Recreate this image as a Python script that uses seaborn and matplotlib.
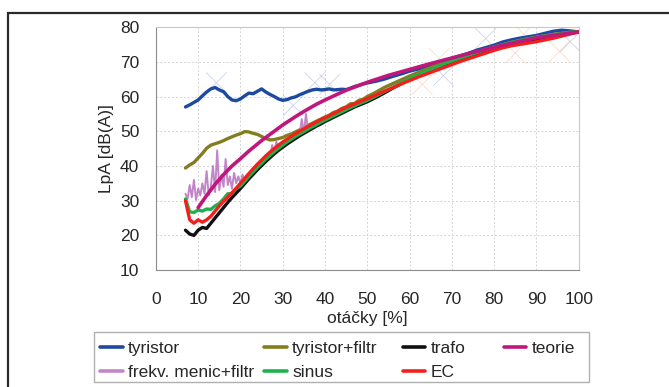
import numpy as np
import pandas as pd
import seaborn as sns
import matplotlib.pyplot as plt
from matplotlib.patches import Rectangle

# otacky [%] - spolecna osa pro mericí rady
otacky = np.concatenate([np.arange(7, 51), np.arange(52, 101, 2)])

tyristor = [57.0, 57.6, 58.3, 59.0, 60.2, 61.3, 62.2, 62.6, 61.9, 61.4, 60.0, 59.0, 58.8, 59.3,
            60.2, 61.0, 60.8, 61.5, 62.2, 61.3, 60.6, 60.0, 59.3, 58.9, 59.1, 59.6, 59.9, 60.5,
            61.0, 61.5, 61.9, 62.1, 61.9, 62.0, 62.2, 61.9, 62.0, 62.1, 62.0, 62.4, 62.9, 63.2,
            63.6, 63.9,
            64.4, 65.0, 65.8, 66.5, 67.3, 67.9, 68.7, 69.3, 70.2, 71.0, 71.7, 72.5, 73.4, 74.1,
            74.8, 75.7, 76.3, 76.8, 77.2, 77.6, 78.2, 78.8, 79.1, 78.9, 78.6]

tyristor_filtr = [39.4, 40.3, 41.0, 42.3, 43.6, 45.1, 46.0, 46.4, 46.8, 47.3, 47.9, 48.4, 48.9, 49.3,
                  49.9, 49.8, 49.4, 49.1, 48.5, 47.9, 47.5, 47.6, 47.9, 48.2, 48.8, 49.2, 49.8, 50.4,
                  51.0, 51.7, 52.3, 52.9, 53.5, 54.1, 54.6, 55.4, 55.8, 56.6, 57.0, 57.9, 58.0, 58.9,
                  59.2, 60.0,
                  61.2, 62.6, 63.7, 64.8, 65.9, 66.9, 67.9, 68.8, 69.8, 70.5, 71.3, 72.1, 72.9, 73.6,
                  74.3, 74.9, 75.6, 76.1, 76.6, 77.1, 77.5, 77.9, 78.2, 78.5, 78.6]

trafo = [21.5, 20.4, 20.0, 21.5, 22.3, 22.0, 23.5, 25.0, 26.5, 28.0, 29.5, 30.9, 32.2, 33.5,
         34.9, 36.3, 37.6, 38.9, 40.1, 41.3, 42.4, 43.5, 44.5, 45.4, 46.3, 47.1, 47.9, 48.7,
         49.4, 50.1, 50.8, 51.5, 52.1, 52.8, 53.4, 54.0, 54.6, 55.2, 55.8, 56.4, 57.0, 57.5,
         58.0, 58.5,
         59.7, 61.0, 62.4, 63.7, 65.0, 66.0, 67.0, 68.0, 69.0, 69.9, 70.8, 71.6, 72.4, 73.1,
         73.8, 74.5, 75.1, 75.6, 76.0, 76.4, 76.9, 77.4, 77.8, 78.2, 78.6]

sinus = [30.5, 26.8, 26.6, 27.3, 27.0, 27.6, 27.5, 28.5, 29.2, 30.5, 32.0, 32.0, 33.5, 34.2,
         35.6, 37.0, 38.3, 39.6, 40.8, 42.0, 43.1, 44.1, 45.1, 46.0, 46.9, 47.7, 48.5, 49.2,
         49.9, 50.6, 51.3, 51.9, 52.6, 53.2, 53.8, 54.4, 55.0, 55.6, 56.2, 56.8, 57.3, 57.9,
         58.4, 58.9,
         60.1, 61.4, 62.6, 63.9, 65.2, 66.3, 67.3, 68.3, 69.3, 70.2, 71.1, 71.9, 72.7, 73.5,
         74.2, 74.9, 75.5, 76.1, 76.6, 77.0, 77.4, 77.8, 78.1, 78.4, 78.6]

ec = [30.0, 24.5, 23.5, 24.5, 23.8, 24.5, 25.5, 27.0, 28.5, 29.8, 31.0, 32.3, 33.6, 35.0,
      36.4, 37.8, 39.2, 40.5, 41.7, 42.9, 44.0, 45.0, 46.0, 46.9, 47.7, 48.5, 49.3, 50.0,
      50.7, 51.4, 52.0, 52.7, 53.3, 53.9, 54.5, 55.1, 55.7, 56.3, 56.9, 57.4, 57.9, 58.4,
      58.9, 59.4,
      60.4, 61.5, 62.5, 63.6, 64.6, 65.6, 66.5, 67.4, 68.3, 69.2, 70.1, 70.9, 71.7, 72.5,
      73.3, 74.0, 74.6, 75.0, 75.4, 75.8, 76.3, 76.8, 77.4, 78.0, 78.6]

# frekvencni menic + filtr - jemnejsi krok kvuli spickam
otacky_fm = np.arange(7, 37.5, 0.5)
frekv_menic = [32.0, 30.5, 34.5, 31.0, 36.0, 30.2, 33.5, 31.5, 35.0, 32.0, 38.5, 31.5, 34.0, 40.0,
               32.5, 44.5, 33.0, 37.5, 34.0, 42.0, 34.5, 37.0, 33.5, 38.0, 35.0, 37.0, 35.0, 37.5,
               35.6, 37.5, 37.0, 38.0, 38.0, 39.0, 39.5, 40.0, 40.5, 41.2, 41.8, 42.2, 42.8, 46.0,
               43.8, 47.0, 44.8, 45.2, 45.7, 46.1, 46.5, 47.0, 47.4, 47.7, 48.1, 48.5, 48.8, 53.5,
               49.5, 55.0, 50.2, 51.5, 50.9]

# teoreticka krivka
otacky_teorie = [10, 12, 14, 16, 18, 20, 22, 25, 28, 30, 33, 35, 38, 40, 43, 45, 48, 50,
                 55, 60, 65, 70, 75, 80, 85, 90, 95, 100]
teorie = [28.0, 31.5, 34.7, 37.5, 40.0, 42.1, 44.3, 47.3, 50.0, 51.8, 54.2, 55.7, 57.8, 59.0,
          60.7, 61.8, 63.2, 64.1, 66.1, 67.8, 69.5, 71.1, 72.7, 74.2, 75.6, 76.9, 77.8, 78.6]

# slabe znacky "x" v grafu
znacky_x = [37.6, 41.1, 14.3, 32.5, 68.0, 78.0, 98.0, 67.0, 87.0, 63.0, 95.5, 85.0]
znacky_y = [64.0, 63.5, 64.0, 57.4, 66.0, 76.7, 75.8, 71.0, 78.0, 63.5, 73.0, 72.5]
znacky_c = ['#8f9ed8', '#8f9ed8', '#8f9ed8', '#8f9ed8', '#8f9ed8', '#8f9ed8', '#8f9ed8',
            '#d2ca90', '#d2ca90', '#f4b0a0', '#f4b0a0', '#f4b0a0']

barvy = {'tyristor': '#1c4aa0', 'tyristor+filtr': '#837d1f', 'frekv. menic+filtr': '#c286c8',
         'trafo': '#111111', 'sinus': '#1fb24c', 'EC': '#f2201c', 'teorie': '#c0177c'}

rady = [('tyristor', otacky, tyristor), ('tyristor+filtr', otacky, tyristor_filtr),
        ('frekv. menic+filtr', otacky_fm, frekv_menic), ('trafo', otacky, trafo),
        ('sinus', otacky, sinus), ('EC', otacky, ec), ('teorie', otacky_teorie, teorie)]

# sloupce legendy jako v originalu
sloupce_legendy = [['tyristor', 'frekv. menic+filtr'], ['tyristor+filtr', 'sinus'],
                   ['trafo', 'EC'], ['teorie']]

sns.set_style('white')
plt.rcParams['font.family'] = ['Liberation Sans', 'DejaVu Sans']

fig = plt.figure(figsize=(6.69, 3.87), dpi=100)
ax = fig.add_axes([0.233, 0.302, 0.632, 0.628])

sns.scatterplot(x=znacky_x, y=znacky_y, marker='x', s=220, c=znacky_c, linewidth=0.6,
                alpha=0.45, ax=ax, legend=False, zorder=1)

handles = {}
for nazev, xs, ys in rady:
    df = pd.DataFrame({'x': xs, 'y': ys})
    lw = 2.6 if nazev == 'teorie' else (1.4 if nazev == 'frekv. menic+filtr' else 2.4)
    sns.lineplot(data=df, x='x', y='y', color=barvy[nazev], lw=lw, ax=ax,
                 estimator=None, sort=False, zorder=3)
    handles[nazev] = plt.Line2D([], [], color=barvy[nazev], lw=2.6)

ax.set_xlim(0, 100)
ax.set_ylim(10, 80)
ax.set_xticks(range(0, 101, 10))
ax.set_yticks(range(10, 81, 10))
ax.grid(True, ls=(0, (2, 2)), color='#d4d4d4', lw=0.7)
for s in ['left', 'bottom']:
    ax.spines[s].set_color('#8c8c8c')
for s in ['top', 'right']:
    ax.spines[s].set_color('#c8c8c8')
ax.tick_params(axis='x', length=5, width=0.8, color='#8c8c8c', pad=10.5, labelsize=12.5)
ax.tick_params(axis='y', length=3, width=0.8, color='#8c8c8c', pad=9, labelsize=12.5)
ax.set_xlabel('otáčky [%]', fontsize=12.5, labelpad=3)
ax.set_ylabel('LpA [dB(A)]', fontsize=12.5, labelpad=4)

# ramecek legendy
fig.patches.append(Rectangle((0.140, 0.0129), 0.740, 0.129, transform=fig.transFigure,
                             fill=False, edgecolor='#b0b0b0', lw=1.0))
x_sloupcu = [0.1495, 0.395, 0.602, 0.753]
for xs, jmena in zip(x_sloupcu, sloupce_legendy):
    leg = fig.legend([handles[n] for n in jmena], jmena, loc='upper left',
                     bbox_to_anchor=(xs, 0.1189), frameon=False, fontsize=12.5,
                     borderpad=0, borderaxespad=0, handlelength=1.3, handletextpad=0.3,
                     labelspacing=0.48)

fig.patches.append(Rectangle((0.0115, -0.05), 1.1, 1.017, transform=fig.transFigure,
                             fill=False, edgecolor='#2a2a2a', lw=1.6))

fig.savefig('out.png', dpi=100)
